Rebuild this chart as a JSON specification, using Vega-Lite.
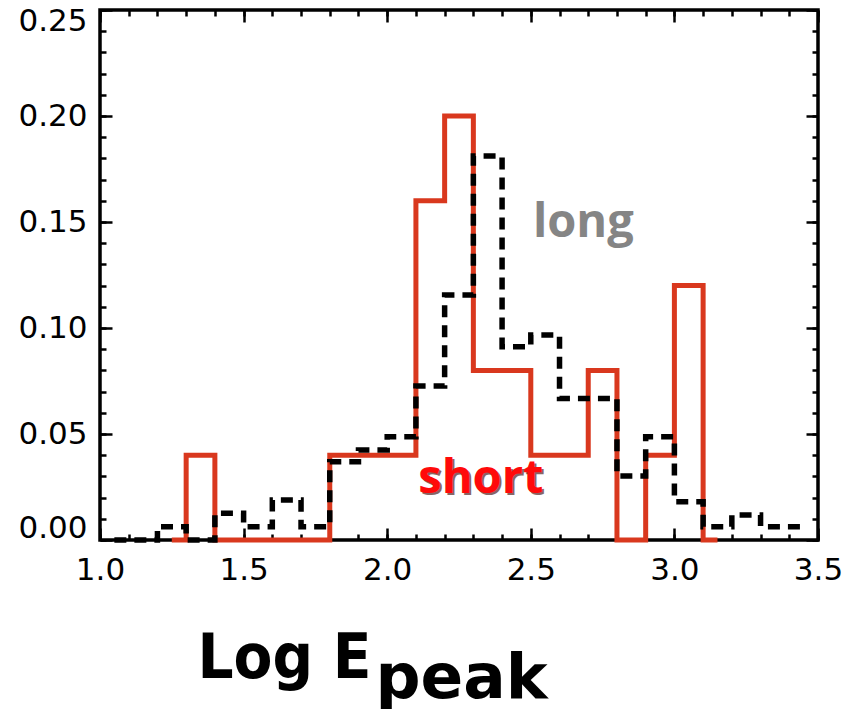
{
  "$schema": "https://vega.github.io/schema/vega-lite/v6.json",
  "width": 718,
  "height": 530,
  "autosize": "none",
  "padding": {"left": 100, "top": 10, "right": 28, "bottom": 169},
  "background": "white",
  "config": {
    "view": {"stroke": "black", "strokeWidth": 3.5},
    "axis": {
      "domain": false,
      "grid": false,
      "tickColor": "black",
      "tickWidth": 2.5,
      "labelColor": "black",
      "labelFont": "DejaVu Sans",
      "labelFontSize": 31
    }
  },
  "datasets": {
    "short": [
      {"logEpeak": 1.25, "fraction": 0},
      {"logEpeak": 1.35, "fraction": 0.04},
      {"logEpeak": 1.45, "fraction": 0},
      {"logEpeak": 1.55, "fraction": 0},
      {"logEpeak": 1.65, "fraction": 0},
      {"logEpeak": 1.75, "fraction": 0},
      {"logEpeak": 1.85, "fraction": 0.04},
      {"logEpeak": 1.95, "fraction": 0.04},
      {"logEpeak": 2.05, "fraction": 0.04},
      {"logEpeak": 2.15, "fraction": 0.16},
      {"logEpeak": 2.25, "fraction": 0.20},
      {"logEpeak": 2.35, "fraction": 0.08},
      {"logEpeak": 2.45, "fraction": 0.08},
      {"logEpeak": 2.55, "fraction": 0.04},
      {"logEpeak": 2.65, "fraction": 0.04},
      {"logEpeak": 2.75, "fraction": 0.08},
      {"logEpeak": 2.85, "fraction": 0},
      {"logEpeak": 2.95, "fraction": 0.04},
      {"logEpeak": 3.05, "fraction": 0.12},
      {"logEpeak": 3.15, "fraction": 0}
    ],
    "long": [
      {"logEpeak": 1.05, "fraction": 0},
      {"logEpeak": 1.15, "fraction": 0},
      {"logEpeak": 1.25, "fraction": 0.0063},
      {"logEpeak": 1.35, "fraction": 0},
      {"logEpeak": 1.45, "fraction": 0.0126},
      {"logEpeak": 1.55, "fraction": 0.0063},
      {"logEpeak": 1.65, "fraction": 0.0189},
      {"logEpeak": 1.75, "fraction": 0.0063},
      {"logEpeak": 1.85, "fraction": 0.0369},
      {"logEpeak": 1.95, "fraction": 0.0425},
      {"logEpeak": 2.05, "fraction": 0.0487},
      {"logEpeak": 2.15, "fraction": 0.0726},
      {"logEpeak": 2.25, "fraction": 0.1156},
      {"logEpeak": 2.35, "fraction": 0.1811},
      {"logEpeak": 2.45, "fraction": 0.0912},
      {"logEpeak": 2.55, "fraction": 0.0967},
      {"logEpeak": 2.65, "fraction": 0.0668},
      {"logEpeak": 2.75, "fraction": 0.0668},
      {"logEpeak": 2.85, "fraction": 0.0302},
      {"logEpeak": 2.95, "fraction": 0.0487},
      {"logEpeak": 3.05, "fraction": 0.0181},
      {"logEpeak": 3.15, "fraction": 0.0063},
      {"logEpeak": 3.25, "fraction": 0.0118},
      {"logEpeak": 3.35, "fraction": 0.0063},
      {"logEpeak": 3.45, "fraction": 0.0063}
    ]
  },
  "resolve": {"axis": {"x": "independent", "y": "independent"}},
  "layer": [
    {
      "data": {"name": "short"},
      "mark": {"type": "line", "interpolate": "step", "color": "#d9381e", "strokeWidth": 5},
      "encoding": {
        "x": {
          "field": "logEpeak", "type": "quantitative",
          "scale": {"domain": [1, 3.5], "nice": false, "zero": false},
          "axis": {
            "orient": "bottom",
            "values": [1, 1.5, 2, 2.5, 3, 3.5],
            "format": ".1f",
            "tickSize": -12,
            "labelPadding": 27,
            "labelFlush": false,
            "title": "Log E",
            "titleFont": "'Liberation Sans Narrow', 'DejaVu Sans Condensed', sans-serif",
            "titleFontSize": 63,
            "titleFontWeight": "bold",
            "titleColor": "black",
            "titleAlign": "right",
            "titleBaseline": "alphabetic",
            "titleX": 271,
            "titleY": 137
          }
        },
        "y": {
          "field": "fraction", "type": "quantitative",
          "scale": {"domain": [0, 0.25], "nice": false},
          "axis": {
            "orient": "left",
            "values": [0, 0.05, 0.1, 0.15, 0.2, 0.25],
            "format": ".2f",
            "tickSize": -12,
            "labelPadding": 25,
            "labelFlush": true,
            "labelFlushOffset": 4,
            "title": null
          }
        }
      }
    },
    {
      "data": {"name": "long"},
      "mark": {"type": "line", "interpolate": "step", "color": "black", "strokeWidth": 5.5, "strokeDash": [12, 8]},
      "encoding": {
        "x": {
          "field": "logEpeak", "type": "quantitative",
          "axis": {
            "orient": "bottom",
            "values": [1, 1.1, 1.2, 1.3, 1.4, 1.5, 1.6, 1.7, 1.8, 1.9, 2, 2.1, 2.2, 2.3, 2.4, 2.5, 2.6, 2.7, 2.8, 2.9, 3, 3.1, 3.2, 3.3, 3.4, 3.5],
            "tickSize": -6,
            "labels": false,
            "title": "peak",
            "titleFont": "DejaVu Sans",
            "titleFontSize": 63,
            "titleFontWeight": "bold",
            "titleColor": "black",
            "titleAlign": "left",
            "titleBaseline": "alphabetic",
            "titleX": 275,
            "titleY": 157
          }
        },
        "y": {
          "field": "fraction", "type": "quantitative",
          "axis": {
            "orient": "left",
            "values": [0, 0.01, 0.02, 0.03, 0.04, 0.05, 0.06, 0.07, 0.08, 0.09, 0.1, 0.11, 0.12, 0.13, 0.14, 0.15, 0.16, 0.17, 0.18, 0.19, 0.2, 0.21, 0.22, 0.23, 0.24, 0.25],
            "tickSize": -6,
            "labels": false,
            "title": null
          }
        }
      }
    },
    {
      "data": {"values": [{"label": "long"}]},
      "mark": {"type": "text", "font": "Open Sans", "fontSize": 47, "fontWeight": "bold", "color": "#858585", "align": "center", "baseline": "alphabetic"},
      "encoding": {
        "text": {"field": "label"},
        "x": {
          "datum": 2.683, "type": "quantitative",
          "axis": {"orient": "top", "values": [1, 1.5, 2, 2.5, 3, 3.5], "tickSize": -12, "labels": false, "title": null}
        },
        "y": {
          "datum": 0.143, "type": "quantitative",
          "axis": {"orient": "right", "values": [0, 0.05, 0.1, 0.15, 0.2, 0.25], "tickSize": -12, "labels": false, "title": null}
        }
      }
    },
    {
      "data": {"values": [{"label": "short"}]},
      "mark": {"type": "text", "font": "Open Sans", "fontSize": 47, "fontWeight": "bold", "color": "#3a0000", "opacity": 0.6, "align": "center", "baseline": "alphabetic", "dx": 2, "dy": 2},
      "encoding": {
        "text": {"field": "label"},
        "x": {
          "datum": 2.326, "type": "quantitative",
          "axis": {"orient": "top", "values": [1, 1.1, 1.2, 1.3, 1.4, 1.5, 1.6, 1.7, 1.8, 1.9, 2, 2.1, 2.2, 2.3, 2.4, 2.5, 2.6, 2.7, 2.8, 2.9, 3, 3.1, 3.2, 3.3, 3.4, 3.5], "tickSize": -6, "labels": false, "title": null}
        },
        "y": {
          "datum": 0.022, "type": "quantitative",
          "axis": {"orient": "right", "values": [0, 0.01, 0.02, 0.03, 0.04, 0.05, 0.06, 0.07, 0.08, 0.09, 0.1, 0.11, 0.12, 0.13, 0.14, 0.15, 0.16, 0.17, 0.18, 0.19, 0.2, 0.21, 0.22, 0.23, 0.24, 0.25], "tickSize": -6, "labels": false, "title": null}
        }
      }
    },
    {
      "data": {"values": [{"label": "short"}]},
      "mark": {"type": "text", "font": "Open Sans", "fontSize": 47, "fontWeight": "bold", "color": "#ff0a0a", "align": "center", "baseline": "alphabetic"},
      "encoding": {
        "text": {"field": "label"},
        "x": {"datum": 2.326, "type": "quantitative", "axis": null},
        "y": {"datum": 0.022, "type": "quantitative", "axis": null}
      }
    }
  ]
}
